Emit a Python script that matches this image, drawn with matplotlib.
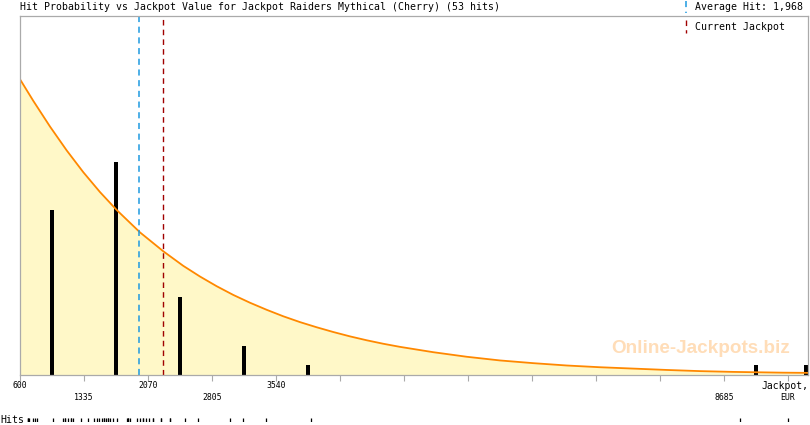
import numpy as np
import matplotlib
matplotlib.use('Agg')
import matplotlib.pyplot as plt

# jackpot grid (EUR) and tick labels
tick_vals = [600 + 735 * k for k in range(13)]
tick_labels = ['600', '1335', '2070', '2805', '3540', '', '', '', '', '', '', '8685', 'EUR']

# hits per bin (bars)
bar_x = [967.5, 1702.5, 2437.5, 3172.5, 3907.5, 9052.5, 9627]
bar_counts = [17, 22, 8, 3, 1, 1, 1]

# fitted hit probability curve (in hits per bin)
curve_x = [600, 753, 945, 1136, 1327, 1519, 1710, 1978, 2246, 2475, 2667, 2859,
           3050, 3241, 3433, 3624, 3816, 4007, 4198, 4390, 4581, 4772, 4964,
           5346, 5730, 6112, 6495, 6878, 7261, 7755, 8027, 8409, 8788, 9362, 9650]
curve_y = [30.48, 28.25, 25.60, 23.15, 20.90, 18.85, 17.01, 14.70, 12.75, 11.25,
           10.15, 9.15, 8.25, 7.45, 6.72, 6.05, 5.45, 4.92, 4.43, 3.98, 3.58, 3.22,
           2.90, 2.35, 1.88, 1.50, 1.22, 0.98, 0.80, 0.62, 0.52, 0.40, 0.32, 0.24, 0.22]

# individual hits (EUR) for the rug
hits = [590, 606, 606, 624, 671, 695, 719, 908, 1027, 1051, 1051, 1086, 1122, 1122,
        1146, 1241, 1324, 1395, 1430, 1454, 1490, 1514, 1514, 1537, 1561, 1561, 1585,
        1620, 1668, 1786, 1798, 1798, 1822, 1905, 1941, 1976, 1976, 2012, 2047, 2095,
        2095, 2190, 2190, 2297, 2297, 2474, 2629, 3008, 3163, 3436, 3969, 9059, 9628]

average_hit = 1968
current_jackpot = 2246

W, H = 810, 425
fig = plt.figure(figsize=(W / 100, H / 100), dpi=100)
ax = fig.add_axes([20 / W, (H - 375) / H, 788 / W, 359 / H])

ax.fill_between(curve_x, curve_y, 0, color='#FFF8C8', lw=0)
ax.plot(curve_x, curve_y, color='#FF8800', lw=1.3)
ax.bar(bar_x, bar_counts, width=44, color='black')

ax.axvline(average_hit, color='#1E9AE0', lw=1.1, ls=(0, (4, 3)))
ax.axvline(current_jackpot, color='#A00000', lw=1.0, ls=(0, (4, 3)))

ax.set_xlim(600, 9650)
ax.set_ylim(0, 37.0)
ax.set_yticks([])
ax.set_xticks(tick_vals)
ax.set_xticklabels([])
ax.tick_params(axis='x', length=4, width=0.8, color='#AAAAAA', direction='out')
for s in ax.spines.values():
    s.set_color('#AAAAAA')
    s.set_linewidth(0.9)

mono = 'DejaVu Sans Mono'
for i, (v, lab) in enumerate(zip(tick_vals, tick_labels)):
    y = -0.030 if i % 2 == 0 else -0.063
    if lab == 'EUR':
        y = -0.063
    ax.text(v, y, lab, transform=ax.get_xaxis_transform(), ha='center', va='center',
            fontsize=5.9, family=mono)
ax.text(1.0, -0.030, 'Jackpot,', transform=ax.transAxes, ha='right', va='center',
        fontsize=7, family=mono)

ax.text(0.977, 0.075, 'Online-Jackpots.biz', transform=ax.transAxes, ha='right',
        va='center', fontsize=13.6, fontweight='bold', family='Liberation Sans',
        color='#FFDDB8')

# title and legend
fig.text(20.5 / W, 1 - 7 / H, 'Hit Probability vs Jackpot Value for Jackpot Raiders Mythical (Cherry) (53 hits)',
         ha='left', va='center', fontsize=7.1, family=mono)
fig.text(695 / W, 1 - 7 / H, 'Average Hit: 1,968', ha='left', va='center', fontsize=7.1, family=mono)
fig.text(695 / W, 1 - 27 / H, 'Current Jackpot', ha='left', va='center', fontsize=7.1, family=mono)
fig.add_artist(plt.Line2D([685.7 / W] * 2, [1 - 1 / H, 1 - 13 / H], color='#1E9AE0',
                          lw=1.1, ls=(0, (4, 3))))
fig.add_artist(plt.Line2D([685.7 / W] * 2, [1 - 20 / H, 1 - 33 / H], color='#A00000',
                          lw=1.0, ls=(0, (4, 3))))

# rug of hits
rug = fig.add_axes([27 / W, (H - 422) / H, 763 / W, 4.5 / H])
rug.vlines(hits, 0, 1, color='black', lw=0.9)
rug.set_xlim(600, 9650)
rug.set_ylim(0, 1)
rug.axis('off')
fig.text(0, 1 - 420 / H, 'Hits', ha='left', va='center', fontsize=7.1, family=mono)

fig.savefig('out.png', dpi=100)
